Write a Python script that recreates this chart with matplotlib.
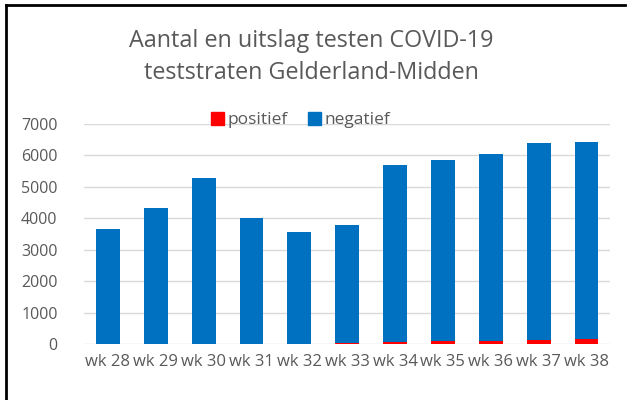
import matplotlib
matplotlib.use("Agg")
import matplotlib.pyplot as plt
from matplotlib.patches import Patch

weeks = ["wk 28", "wk 29", "wk 30", "wk 31", "wk 32", "wk 33",
         "wk 34", "wk 35", "wk 36", "wk 37", "wk 38"]
positief = [8, 10, 12, 10, 12, 45, 50, 95, 95, 130, 165]
totaal = [3670, 4340, 5290, 4010, 3560, 3790, 5700, 5850, 6030, 6390, 6430]
negatief = [t - p for t, p in zip(totaal, positief)]
yticks = [0, 1000, 2000, 3000, 4000, 5000, 6000, 7000]

plt.rcParams['font.family'] = ['Open Sans', 'DejaVu Sans']
grey = "#595959"

fig = plt.figure(figsize=(6.29, 4.0), dpi=100, facecolor="white")
ax = fig.add_axes([0.1335, 0.14, 0.837, 0.55])

x = range(len(weeks))
ax.bar(x, positief, width=0.5, color="#FF0000", zorder=3)
ax.bar(x, negatief, width=0.5, bottom=positief, color="#0070C0", zorder=3)

ax.set_xlim(-0.5, len(weeks) - 0.5)
ax.set_ylim(0, 7000)
ax.set_yticks(yticks)
ax.set_xticks(list(x))
ax.set_xticklabels(weeks)
ax.tick_params(axis='both', length=0, colors=grey)
ax.tick_params(axis='y', pad=19, labelsize=11.5)
ax.tick_params(axis='x', pad=7, labelsize=12)
ax.grid(axis='y', color="#D9D9D9", lw=1, zorder=0)
for s in ax.spines.values():
    s.set_visible(False)

fig.text(0.495, 0.897, "Aantal en uitslag testen COVID-19", ha='center', va='center',
         fontsize=16.8, color=grey)
fig.text(0.495, 0.817, "teststraten Gelderland-Midden", ha='center', va='center',
         fontsize=16.8, color=grey)

handles = [Patch(color="#FF0000", label="positief"),
           Patch(color="#0070C0", label="negatief")]
fig.legend(handles=handles, loc='center', bbox_to_anchor=(0.478, 0.70), ncol=2,
           frameon=False, fontsize=12.5, labelcolor=grey, handlelength=0.75,
           handleheight=0.75, handletextpad=0.2, columnspacing=1.2)

# frame lines of the screenshot (left and top)
fig.add_artist(plt.Line2D([0.0095, 0.0095], [0, 0.987], color="black", lw=2))
fig.add_artist(plt.Line2D([0.0095, 0.994], [0.987, 0.987], color="black", lw=2))

fig.savefig("out.png", dpi=100)
